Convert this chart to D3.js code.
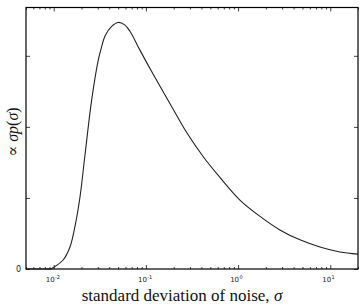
<!DOCTYPE html>
<html>
<head>
<meta charset="utf-8">
<script src="https://cdn.jsdelivr.net/npm/d3@7"></script>
<style>
  body { margin: 0; background: #fff; }
  svg { display: block; }
  .tick-label { font-family: 'DejaVu Sans', sans-serif; fill: #222; }
  .axis-label { font-family: 'Liberation Serif', 'DejaVu Serif', serif; fill: #111; }
</style>
</head>
<body>
<svg width="363" height="307"></svg>
<script>
// noise level sigma and curve height in tick units
const sigmaValues = [0.005, 0.008, 0.0093, 0.0099, 0.0127, 0.0150, 0.0170, 0.0193, 0.0218,
  0.0258, 0.0304, 0.0331, 0.0360, 0.0425, 0.0501, 0.0588, 0.0671, 0.0861, 0.120, 0.182,
  0.277, 0.419, 0.635, 1.047, 1.73, 2.84, 4.69, 7.73, 12.7, 20];
const densityValues = [0, 0, 0, 0.02, 0.13, 0.31, 0.60, 1.02, 1.60,
  2.38, 2.94, 3.13, 3.28, 3.415, 3.47, 3.436, 3.345, 3.08, 2.74, 2.33,
  1.92, 1.58, 1.29, 0.97, 0.74, 0.55, 0.41, 0.31, 0.24, 0.21];
const xMajorTicks = [0.01, 0.1, 1, 10];
const xTickExponents = ['-2', '-1', '0', '1'];
const yTicks = [0, 1, 2, 3];
const yTickLabels = ['0', '', '', ''];

const svg = d3.select('svg');
const width = +svg.attr('width');
const height = +svg.attr('height');
const margin = { top: 7.5, right: 5, bottom: 38, left: 26 };
const innerWidth = width - margin.left - margin.right;
const innerHeight = height - margin.top - margin.bottom;

const data = sigmaValues.map((s, i) => ({ sigma: s, value: densityValues[i] }));

const xScale = d3.scaleLog()
    .domain([0.005, 20])
    .range([0, innerWidth]);

const yScale = d3.scaleLinear()
    .domain([0, 3.68])
    .range([innerHeight, 0]);

const g = svg.append('g')
    .attr('transform', `translate(${margin.left},${margin.top})`);

// minor ticks 2..9 x 10^k inside the domain
const minorTicks = [];
[-3, -2, -1, 0, 1].forEach(k => {
    for (let m = 2; m <= 9; m++) {
        const v = m * Math.pow(10, k);
        if (v >= 0.005 && v <= 20) minorTicks.push(v);
    }
});

const addXAxis = (axisFn, y) => {
    const major = g.append('g')
        .attr('transform', `translate(0,${y})`)
        .call(axisFn(xScale).tickValues(xMajorTicks).tickSize(-4));
    major.select('.domain').remove();
    major.selectAll('.tick text').remove();
    const minor = g.append('g')
        .attr('transform', `translate(0,${y})`)
        .call(axisFn(xScale).tickValues(minorTicks).tickSize(-2));
    minor.select('.domain').remove();
    minor.selectAll('.tick text').remove();
    return major;
};

addXAxis(d3.axisBottom, innerHeight);
addXAxis(d3.axisTop, 0);

// 10^k labels: base and superscript as separate texts
const xLabels = g.append('g').attr('transform', `translate(0,${innerHeight})`);
xMajorTicks.forEach((v, i) => {
    xLabels.append('text')
        .attr('class', 'tick-label')
        .attr('x', xScale(v) + 1)
        .attr('y', 13)
        .attr('text-anchor', 'end')
        .style('font-size', '7px')
        .text('10');
    xLabels.append('text')
        .attr('class', 'tick-label')
        .attr('x', xScale(v) + 1.3)
        .attr('y', 9.5)
        .attr('text-anchor', 'start')
        .style('font-size', '5px')
        .text(xTickExponents[i]);
});

const yAxisL = g.append('g')
    .call(d3.axisLeft(yScale).tickValues(yTicks).tickSize(-4));
yAxisL.select('.domain').remove();
yAxisL.selectAll('.tick text').remove();
g.append('text')
    .attr('class', 'tick-label')
    .attr('x', -5)
    .attr('y', yScale(yTicks[0]))
    .attr('dy', '0.35em')
    .attr('text-anchor', 'end')
    .style('font-size', '8px')
    .text(yTickLabels[0]);

const yAxisR = g.append('g')
    .attr('transform', `translate(${innerWidth},0)`)
    .call(d3.axisRight(yScale).tickValues(yTicks).tickSize(-4));
yAxisR.select('.domain').remove();
yAxisR.selectAll('.tick text').remove();

g.selectAll('.tick line').attr('stroke', '#111').attr('stroke-width', 0.8);

// frame
g.append('rect')
    .attr('width', innerWidth)
    .attr('height', innerHeight)
    .attr('fill', 'none')
    .attr('stroke', '#000')
    .attr('stroke-width', 1.2);

const line = d3.line()
    .x(d => xScale(d.sigma))
    .y(d => yScale(d.value))
    .curve(d3.curveCatmullRom.alpha(0.5));

g.append('path')
    .datum(data)
    .attr('fill', 'none')
    .attr('stroke', '#222')
    .attr('stroke-width', 1.1)
    .attr('d', line);

svg.append('text')
    .attr('class', 'axis-label')
    .attr('x', 182)
    .attr('y', 301)
    .attr('text-anchor', 'middle')
    .style('font-size', '17px')
    .html('standard deviation of noise, <tspan font-style="italic">σ</tspan>');

svg.append('text')
    .attr('class', 'axis-label')
    .attr('transform', 'translate(18,132) rotate(-90)')
    .attr('text-anchor', 'middle')
    .style('font-size', '16px')
    .html('∝ <tspan font-style="italic">σp</tspan>(<tspan font-style="italic">σ</tspan>)');
</script>
</body>
</html>
